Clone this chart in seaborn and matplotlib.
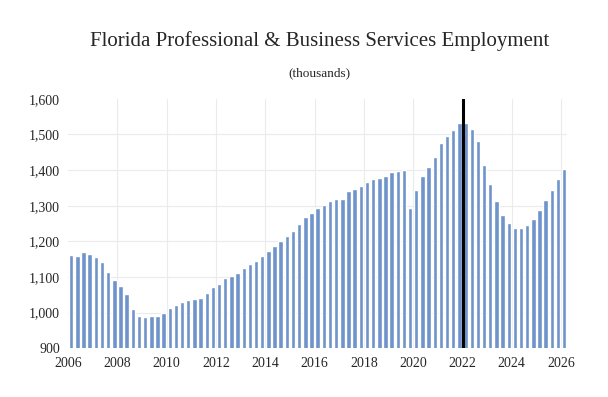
import numpy as np
import pandas as pd
import matplotlib
matplotlib.use("Agg")
import matplotlib.pyplot as plt
import seaborn as sns

# Datos trimestrales, 2006 T1 - 2026 T1 (miles)
valores = [
    1162, 1160, 1170, 1163, 1155, 1142, 1115, 1092,
    1074, 1052, 1010, 991, 987, 989, 990, 1000,
    1014, 1022, 1030, 1036, 1039, 1041, 1054, 1072,
    1080, 1096, 1103, 1112, 1126, 1136, 1144, 1159,
    1173, 1188, 1200, 1216, 1230, 1248, 1267, 1279,
    1293, 1302, 1313, 1320, 1319, 1340, 1346, 1354,
    1366, 1376, 1378, 1384, 1396, 1398, 1400, 1293,
    1345, 1383, 1410, 1436, 1476, 1496, 1512, 1532,
    1532, 1516, 1482, 1415, 1360, 1312, 1275, 1252,
    1237, 1236, 1246, 1264, 1288, 1317, 1345, 1374,
    1403,
]
anios = list(range(2006, 2027, 2))
etiquetas_y = ["900", "1,000", "1,100", "1,200", "1,300", "1,400", "1,500", "1,600"]

df = pd.DataFrame({"idx": np.arange(len(valores)), "empleo": valores})

sns.set_style("white")
plt.rcParams["font.family"] = ["Liberation Serif", "DejaVu Serif"]

fig = plt.figure(figsize=(6.08, 3.97), dpi=100)
ax = fig.add_axes([0.112, 0.123, 0.821, 0.628])

# Cuadricula suave
for v in range(1000, 1600, 100):
    ax.axhline(v, color="#ebebeb", lw=0.8, zorder=0)
ticks_x = [i * 8 - 0.5 for i in range(len(anios))]
for t in ticks_x[1:]:
    ax.axvline(t, color="#ebebeb", lw=0.8, zorder=0)

sns.barplot(data=df, x="idx", y="empleo", color="#6F93CB", saturation=1,
            width=0.72, ax=ax, zorder=2)

ax.axvline(63.5, color="black", lw=2.2, zorder=3)

ax.set_ylim(900, 1600)
ax.set_xlim(-0.5, 80.5)
ax.set_yticks(range(900, 1700, 100))
ax.set_yticklabels(etiquetas_y, fontsize=10)
ax.set_xticks(ticks_x)
ax.set_xticklabels([str(a) for a in anios], fontsize=10)
ax.tick_params(axis="y", length=0, pad=6)
ax.tick_params(axis="x", length=0, pad=6)
ax.set_xlabel("")
ax.set_ylabel("")
for s in ax.spines.values():
    s.set_visible(False)

fig.text(0.525, 0.897, "Florida Professional & Business Services Employment",
         ha="center", va="center", fontsize=15)
fig.text(0.525, 0.816, "(thousands)", ha="center", va="center", fontsize=9.5)

fig.savefig("out.png", dpi=100)
